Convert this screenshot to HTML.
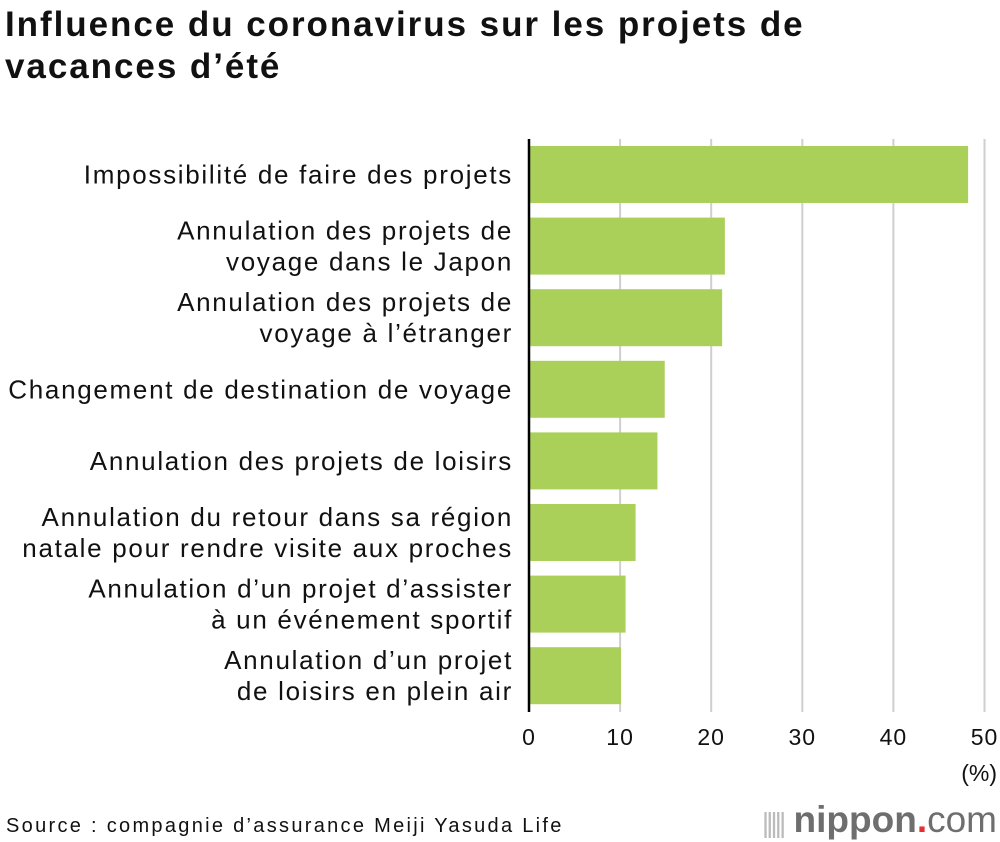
<!DOCTYPE html>
<html><head><meta charset="utf-8"><style>
body{margin:0;background:#fff;font-family:"Liberation Sans",sans-serif;}
#wrap{position:relative;width:1000px;height:842px;overflow:hidden}
h1{position:absolute;left:5px;top:4px;margin:0;font-size:35px;line-height:42px;font-weight:bold;color:#111;letter-spacing:1.95px;white-space:nowrap}
.src{position:absolute;left:6px;top:815px;font-size:20px;color:#111;letter-spacing:2.3px;white-space:nowrap}
.logo{position:absolute;right:3px;top:799px;font-size:37px;color:#6e6e6e;font-weight:bold;white-space:nowrap}
</style></head><body><div id="wrap">
<h1>Influence du coronavirus sur les projets de<br>vacances d’été</h1>
<svg id="chart" width="1000" height="842" style="position:absolute;left:0;top:0"></svg>
<div class="src">Source : compagnie d’assurance Meiji Yasuda Life</div>
<div class="logo"><span style="font-weight:normal;color:#bbb;letter-spacing:-3px;font-size:28px">|||||</span> nippon<span style="color:#e62f2f">.</span><span style="font-weight:normal">com</span></div>
</div>
<script>
const categories=[["Impossibilité de faire des projets"],["Annulation des projets de","voyage dans le Japon"],["Annulation des projets de","voyage à l’étranger"],["Changement de destination de voyage"],["Annulation des projets de loisirs"],["Annulation du retour dans sa région","natale pour rendre visite aux proches"],["Annulation d’un projet d’assister","à un événement sportif"],["Annulation d’un projet","de loisirs en plein air"]];
const values=[48.2,21.5,21.2,14.9,14.1,11.7,10.6,10.1];
const ticks=[0,10,20,30,40,50];
const NS="http://www.w3.org/2000/svg";
const svg=document.getElementById('chart');
const x0=529,xPer=9.11,yTop=146,pitch=71.6,barH=57;
const xs=v=>x0+v*xPer;
function mk(t,a){const e=document.createElementNS(NS,t);for(const k in a)e.setAttribute(k,a[k]);svg.appendChild(e);return e;}
ticks.forEach(t=>{
 if(t>0){const g=mk('line',{x1:xs(t),x2:xs(t),y1:139,y2:712,stroke:'#cfcfcf','stroke-width':2});
 
 }
 const l=mk('text',{x:xs(t),y:745,'text-anchor':'middle','font-size':23,'letter-spacing':1,fill:'#111'});l.textContent=t;
 
 
});
const u=mk('text',{x:997,y:781,'text-anchor':'end','font-size':23,fill:'#111'});u.textContent='(%)';


values.forEach((v,i)=>{
 const y=yTop+i*pitch;
 const r=mk('rect',{x:x0,y:y,width:xs(v)-x0,height:barH,fill:'#abd05a'});
 
 
 const lines=categories[i];const cy=y+barH/2;
 lines.forEach((s,j)=>{
  const t=mk('text',{x:513,y:cy+9+(j-(lines.length-1)/2)*31,'text-anchor':'end','font-size':26,'letter-spacing':1.7,fill:'#111'});t.textContent=s;
  
  
 });
});
const ax=mk('line',{x1:x0,x2:x0,y1:139,y2:712,stroke:'#000','stroke-width':2.5});


</script></body></html>
